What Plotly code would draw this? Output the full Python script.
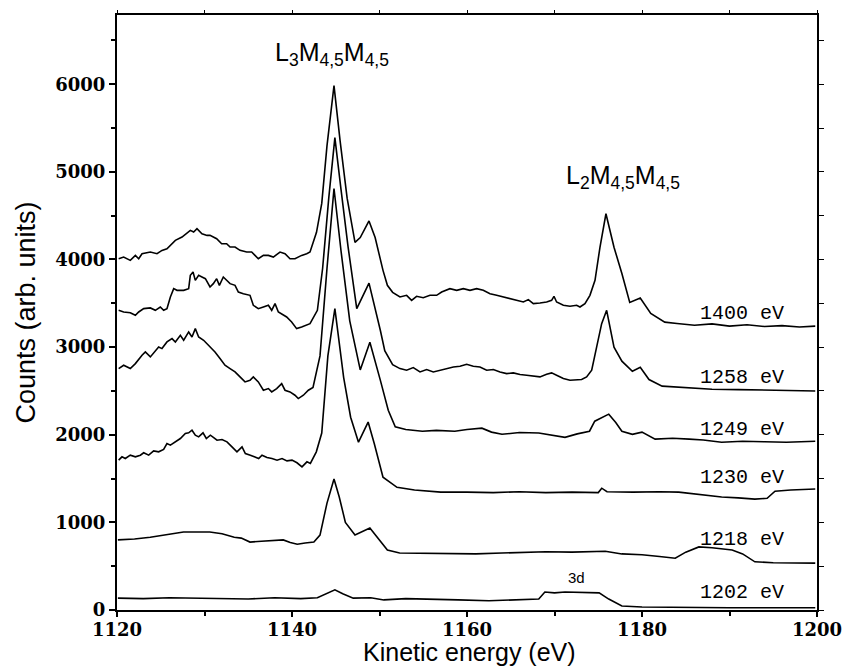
import plotly.graph_objects as go

# ---------------- data ----------------
x_1400 = [1120.19,1120.76,1121.52,1122.1,1122.48,1122.86,1123.81,1124.57,1125.14,1125.71,1126.67,1127.43,1128.38,1128.76,
          1129.14,1129.71,1130.29,1130.63,1131.39,1131.96,1132.53,1132.92,1133.49,1134.06,1134.82,1135.39,1135.77,1136.15,
          1136.73,1137.3,1137.87,1138.63,1139.2,1139.77,1140.34,1141.1,1141.68,1142.06,1142.8,1143.4,1144.0,1144.8,
          1145.5,1146.3,1147.2,1147.8,1148.8,1149.5,1150.4,1150.9,1151.5,
          1152.34,1153.1,1153.67,1154.24,1155.0,1155.77,1156.53,1157.1,1158.05,1158.82,1159.58,1160.34,1161.1,1161.86,
          1162.63,1163.39,1164.15,1164.91,1165.67,1166.44,1167.01,1167.58,1168.34,1169.1,1169.67,1169.94,1170.24,1171.01,
          1171.77,1172.53,1172.91,1173.48,1174.05,1174.63,1175.2,1175.88,1176.8,1177.7,1178.6,1179.8,1181.0,1182.6,
          1184.0,1186.0,1188.0,1190.0,1192.0,1194.0,1196.0,1198.0,1199.8]
y_1400 = [4009,4028,3990,4047,4009,4066,4085,4066,4104,4123,4218,4256,4332,4313,
          4351,4294,4275,4275,4237,4180,4180,4142,4142,4104,4085,4085,4047,4009,
          4047,4047,4028,4085,4066,4009,4009,4047,4066,4085,4310,4640,5300,5985,
          5350,4700,4195,4250,4440,4250,3876,3705,3625,
          3572,3591,3534,3580,3564,3591,3591,3629,3667,3648,3667,3648,3667,3648,
          3610,3591,3572,3553,3534,3515,3542,3496,3504,3515,3534,3580,3515,3477,
          3466,3477,3458,3496,3591,3762,4142,4522,4140,3840,3510,3560,3385,3285,
          3270,3250,3265,3240,3255,3235,3245,3230,3240]

x_1258 = [1120.19,1120.76,1121.52,1122.1,1122.48,1123.05,1123.81,1124.38,1124.95,1125.33,1125.71,1126.1,1126.48,1126.86,
          1127.62,1128.19,1128.38,1128.69,1128.95,1129.33,1129.71,1130.1,1130.63,1131.01,1131.39,1131.7,1132.15,1132.53,
          1132.92,1133.49,1133.87,1134.44,1135.2,1135.58,1136.15,1136.73,1137.3,1137.68,1138.06,1138.44,1138.82,1139.39,
          1139.96,1140.53,1141.1,1141.68,1142.06,1142.9,1143.5,1144.2,1144.9,1145.6,1146.4,1147.4,1148.2,1148.8,
          1150.1,1150.6,1151.5,
          1152.34,1153.1,1153.86,1154.63,1155.39,1156.15,1156.91,1157.67,1158.44,1159.2,1159.96,1160.72,1161.48,1162.25,
          1163.01,1163.77,1164.53,1165.29,1166.06,1166.82,1167.58,1168.34,1169.1,1169.67,1170.24,1171.01,1171.77,1172.53,
          1173.1,1173.67,1174.25,1174.82,1175.39,1175.96,1176.8,1177.7,1178.9,1179.8,1180.8,1182.3,1185.4,
          1188.0,1191.0,1194.0,1197.0,1199.8]
y_1258 = [3420,3401,3393,3363,3401,3439,3447,3420,3458,3420,3439,3572,3667,3648,
          3648,3667,3819,3857,3762,3819,3800,3781,3686,3724,3781,3705,3800,3762,
          3724,3705,3629,3610,3591,3477,3439,3458,3477,3420,3496,3401,3382,3344,
          3287,3211,3230,3249,3268,3420,3900,4700,5390,4800,4150,3440,3600,3730,
          3190,2960,2800,
          2755,2736,2766,2717,2744,2717,2736,2755,2774,2782,2804,2782,2774,2736,
          2744,2717,2698,2706,2687,2679,2668,2660,2690,2706,2679,2641,2622,2622,
          2630,2660,2736,3002,3268,3420,3000,2840,2725,2770,2630,2555,2540,
          2520,2515,2510,2505,2500]

x_1249 = [1120.19,1120.76,1121.52,1122.1,1122.86,1123.24,1123.81,1124.38,1124.76,1125.14,1125.71,1126.29,1126.67,1127.24,
          1127.62,1128.19,1128.57,1128.95,1129.33,1129.9,1130.63,1131.2,1131.77,1132.34,1132.92,1133.49,1134.06,1134.63,
          1135.2,1135.58,1136.15,1136.73,1137.3,1137.68,1138.25,1138.82,1139.2,1139.77,1140.34,1140.72,1141.3,1141.87,
          1142.4,1143.2,1144.0,1144.8,1145.6,1146.6,1147.8,1148.9,1150.1,1151.0,1151.8,1153.0,1154.9,1156.5,1158.6,
          1160.0,1161.7,1162.8,1164.0,1166.0,1168.2,1169.8,1171.2,1172.6,1174.0,1174.6,1176.2,1177.0,1177.7,1178.9,
          1180.0,1181.5,1183.5,1185.4,1187.0,1189.1,1191.5,1194.0,1196.5,1199.8]
y_1249 = [2755,2793,2755,2812,2907,2945,2888,2964,3002,2983,3059,3097,3059,3135,
          3078,3173,3116,3211,3116,3078,3002,2945,2869,2793,2755,2717,2660,2603,
          2622,2660,2603,2508,2527,2489,2527,2584,2508,2489,2451,2413,2451,2508,
          2540,2900,3900,4810,4100,3300,2740,3055,2620,2280,2090,2060,2040,2050,2040,
          2060,2075,2030,2005,2025,2020,1990,1970,2010,2040,2155,2235,2140,2040,2005,
          2030,1950,1960,1950,1940,1915,1925,1920,1915,1925]

x_1230 = [1120.19,1120.57,1120.95,1121.52,1122.1,1122.67,1123.05,1123.62,1124.19,1124.76,1125.33,1125.71,1126.1,1126.67,
          1127.24,1127.81,1128.19,1128.57,1128.95,1129.33,1129.83,1130.21,1130.67,1131.05,1131.43,1132.0,1132.57,1133.14,
          1133.71,1134.29,1134.67,1135.24,1135.81,1136.19,1136.57,1137.14,1137.71,1138.29,1138.86,1139.43,1140.0,1140.57,
          1141.14,1141.71,1142.1,1142.48,1142.78,1143.4,1144.1,1144.9,1145.9,1146.7,1147.6,1148.7,1149.4,1150.4,1152.0,
          1154.0,1157.0,1160.0,1163.0,1166.0,1169.0,1172.0,1175.0,1175.4,1176.0,1179.0,1182.0,1184.2,1186.5,1189.1,
          1191.0,1192.9,1194.3,1195.2,1197.0,1199.8]
y_1230 = [1710,1748,1729,1767,1748,1767,1794,1767,1816,1805,1832,1900,1881,1919,
          1957,2014,2022,2052,1995,1976,2022,1957,1995,1968,1938,1946,1919,1862,
          1805,1862,1786,1767,1748,1729,1767,1741,1729,1710,1729,1702,1710,1680,
          1634,1691,1672,1748,1805,2020,2900,3440,2655,2200,1915,2145,1900,1515,1400,
          1370,1345,1345,1340,1350,1340,1345,1340,1390,1350,1345,1350,1345,1320,1290,
          1280,1265,1275,1355,1370,1380]

x_1218 = [1120.1,1122.0,1123.8,1126.0,1127.6,1129.0,1130.6,1132.0,1133.4,1134.2,1135.2,1136.5,1138.0,1139.0,1139.8,
          1140.6,1141.5,1142.5,1143.2,1144.0,1144.8,1145.4,1146.1,1147.2,1148.9,1149.7,1150.9,1152.3,1155.0,1158.0,
          1161.0,1164.0,1166.3,1169.0,1172.0,1175.8,1177.7,1180.0,1182.0,1183.8,1185.0,1186.5,1188.0,1190.3,1191.5,
          1192.9,1195.0,1197.0,1199.8]
y_1218 = [800,810,830,860,890,890,890,870,830,820,775,785,790,800,770,
          750,765,775,855,1220,1495,1290,1000,855,935,830,685,650,645,640,
          640,650,660,665,660,670,640,630,610,590,660,720,710,685,640,
          550,540,538,535]

x_1202 = [1120.1,1123.0,1126.0,1129.0,1132.0,1135.0,1138.0,1141.0,1142.9,1144.0,1144.9,1145.8,1147.0,1149.0,1150.5,
          1153.0,1156.0,1159.0,1162.5,1165.0,1168.2,1168.9,1170.0,1171.2,1173.0,1175.1,1176.2,1177.7,1180.0,1183.0,
          1186.0,1190.0,1195.0,1199.8]
y_1202 = [135,130,140,135,130,125,140,130,140,190,230,185,135,140,115,
          130,125,115,105,110,125,205,195,205,200,195,125,45,35,30,
          30,25,25,25]

series_names = ["1400 eV", "1258 eV", "1249 eV", "1230 eV", "1218 eV", "1202 eV"]
series_x = [x_1400, x_1258, x_1249, x_1230, x_1218, x_1202]
series_y = [y_1400, y_1258, y_1249, y_1230, y_1218, y_1202]
label_x = 1191.4
label_y = [3385, 2656, 2063, 1510, 804, 200]

x_ticks = [1120, 1140, 1160, 1180, 1200]
y_ticks = [0, 1000, 2000, 3000, 4000, 5000, 6000]

# ---------------- figure ----------------
fig = go.Figure()
for xs, ys, nm in zip(series_x, series_y, series_names):
    fig.add_trace(go.Scatter(x=xs, y=ys, mode="lines", name=nm,
                             line=dict(color="black", width=1.6), showlegend=False))

label_font = dict(family="Liberation Mono", size=20, color="black")
for nm, ly in zip(series_names, label_y):
    fig.add_annotation(x=label_x, y=ly, text=nm, showarrow=False, font=label_font,
                       xanchor="center", yanchor="middle")

fig.add_annotation(x=1172.5, y=376, text="3d", showarrow=False,
                   font=dict(family="Liberation Sans", size=15, color="black"))
fig.add_annotation(x=1144.6, y=6350, text="L<sub>3</sub>M<sub>4,5</sub>M<sub>4,5</sub>", showarrow=False,
                   font=dict(family="Liberation Sans", size=25, color="black"))
fig.add_annotation(x=1177.8, y=4940, text="L<sub>2</sub>M<sub>4,5</sub>M<sub>4,5</sub>", showarrow=False,
                   font=dict(family="Liberation Sans", size=25, color="black"))

# x-axis title placed explicitly below the tick labels
fig.add_annotation(xref="paper", yref="paper", x=0.504, y=-0.0955, text="Kinetic energy (eV)",
                   showarrow=False, xanchor="center", yanchor="bottom", borderpad=0,
                   font=dict(family="Liberation Sans", size=25, color="black"))

tick_font = dict(family="DejaVu Serif", size=18, color="black", weight="bold")
fig.update_layout(
    width=844, height=668,
    margin=dict(l=117, r=27, t=15, b=58, autoexpand=False),
    paper_bgcolor="white", plot_bgcolor="white",
    xaxis=dict(range=[1120, 1200], tickvals=x_ticks, ticktext=[str(v) for v in x_ticks],
               ticks="outside", ticklen=5, tickwidth=1.5, tickcolor="black", ticklabelstandoff=-3,
               minor=dict(dtick=10, ticks="outside", ticklen=4, tickcolor="black"),
               showline=True, linecolor="black", linewidth=2, mirror=True, automargin=False,
               showgrid=False, zeroline=False, tickfont=tick_font),
    yaxis=dict(range=[0, 6790], tickvals=y_ticks, ticktext=[str(v) for v in y_ticks],
               ticks="outside", ticklen=6, tickwidth=1.5, tickcolor="black",
               minor=dict(dtick=500, ticks="outside", ticklen=4, tickcolor="black"),
               showline=True, linecolor="black", linewidth=2, mirror=True, automargin=False,
               showgrid=False, zeroline=False, tickfont=tick_font,
               title=dict(text="Counts (arb. units)", standoff=12,
                          font=dict(family="Liberation Sans", size=27, color="black"))),
    xaxis2=dict(range=[1120, 1200], overlaying="x", side="top", dtick=10, tick0=1120,
                ticks="outside", ticklen=4, tickcolor="black", showticklabels=False, automargin=False,
                showgrid=False, zeroline=False, showline=False),
    yaxis2=dict(range=[0, 6790], overlaying="y", side="right", dtick=500, tick0=0,
                ticks="outside", ticklen=6, tickcolor="black", showticklabels=False, automargin=False,
                showgrid=False, zeroline=False, showline=False),
)
# invisible anchor trace so the top/right tick axes are drawn
fig.add_trace(go.Scatter(x=[1120], y=[0], xaxis="x2", yaxis="y2", mode="markers",
                         marker=dict(opacity=0), showlegend=False, hoverinfo="skip"))

fig.write_html("out.html")
